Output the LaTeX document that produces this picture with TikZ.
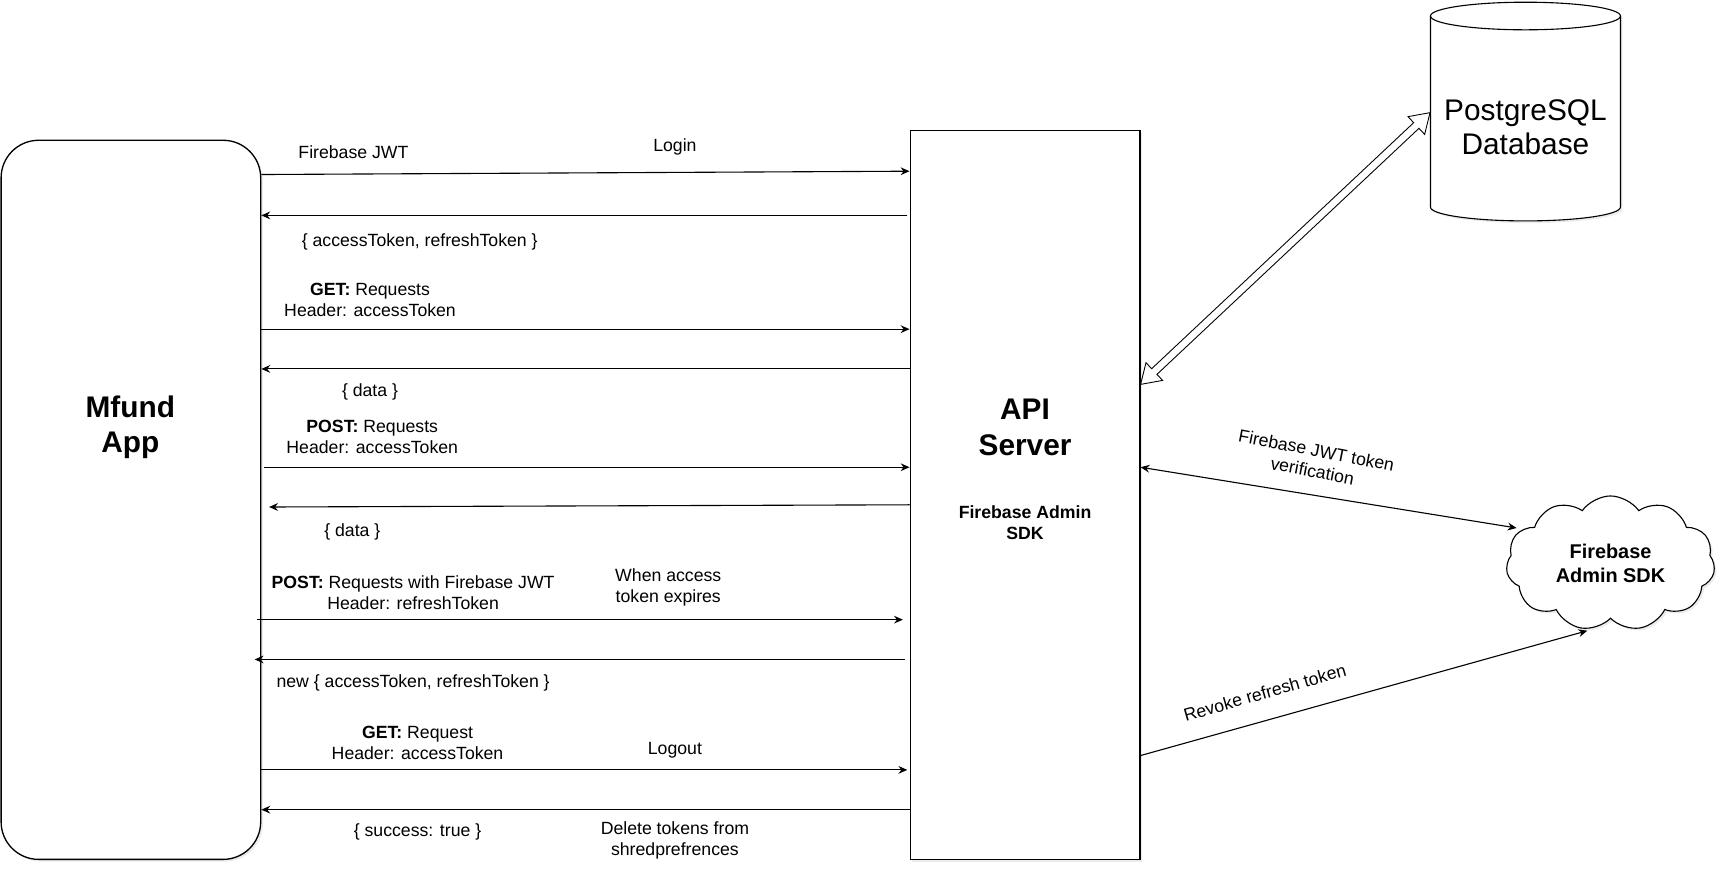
\documentclass[tikz,border=0pt]{standalone}
\usepackage{fontspec}
\setmainfont{Liberation Sans}
\usetikzlibrary{positioning, arrows.meta, calc, shapes.symbols, shadows}

\begin{document}
\begin{tikzpicture}[
          x=0.5pt, y=-0.5pt,
          box/.style={draw, fill=white, line width=0.6pt, drop shadow={opacity=0.15, shadow xshift=1pt, shadow yshift=-1pt}},
          msg/.style={line width=0.5pt, -{Stealth[length=4pt,width=3.5pt]}},
          both/.style={line width=0.5pt, {Stealth[length=4pt,width=3.5pt]}-{Stealth[length=4pt,width=3.5pt]}},
          lbl/.style={font=\fontsize{8}{9.5}\selectfont, align=center, inner sep=0pt, yshift=-1pt},
          big/.style={font=\fontsize{13.5}{16}\selectfont\bfseries, align=center, inner sep=0pt, yshift=-1pt}
        ]
        \useasboundingbox (0,0) rectangle (1568,790);
        % the two actors
        \node[box, rounded corners=17pt, minimum width=117.5pt, minimum height=325.5pt] (app) at (118.5,452.5) {};
        \node[big] (appname) at (118,385) {Mfund\\App};
        \node[box, minimum width=104pt, minimum height=330pt] (api) at (928,448) {};
        \node[big] (apiname) at (928,385) {API\\Server};
        \node[lbl, font=\fontsize{8}{9.5}\selectfont\bfseries] (sdk) at (928,471.5) {Firebase Admin\\SDK};
        % database
        \draw[box, line width=0.5pt] (1295,14.5) -- (1295,187.5)
          arc[start angle=180, end angle=360, x radius=43pt, y radius=6.25pt] -- (1467,14.5)
          arc[start angle=0, end angle=180, x radius=43pt, y radius=6.25pt] -- cycle;
        \draw[line width=0.5pt] (1295,14.5) arc[start angle=180, end angle=360, x radius=43pt, y radius=6.25pt];
        \node[lbl, font=\fontsize{13.5}{15.5}\selectfont, minimum width=86pt] (db) at (1381,113.5) {PostgreSQL\\Database};
        % firebase cloud
        \node[cloud, box, line width=0.5pt, cloud puffs=11, cloud puff arc=110, aspect=1.6, minimum width=94.5pt, minimum height=61pt,
          font=\fontsize{9}{10.5}\selectfont\bfseries, align=center] (fb) at (1458,510) {Firebase\\Admin SDK};
        % requests, app -> api
        \foreach \ya/\yb/\da/\db in {158/155/0/0, 298/298/0/0, 423/423/2/0, 561/561/-4/-6, 697/697/0/-2}
          \draw[msg] ($(app.east |- 0,\ya)+(\da,0)$) -- ($(api.west |- 0,\yb)+(\db,0)$);
        % replies, api -> app
        \foreach \ya/\yb/\da/\db in {195/195/-2/0, 334/334/0/0, 457/459/0/7, 597/597/-4/-6, 733/733/0/0}
          \draw[msg] ($(api.west |- 0,\ya)+(\da,0)$) -- ($(app.east |- 0,\yb)+(\db,0)$);
        % labels of the messages
        \node[lbl] (l1) at (320,136) {Firebase JWT};
        \node[lbl] (l2) at (611,131) {Login};
        \node[lbl] (l3) at (380,217) {\{ accessToken, refreshToken \}};
        \node[lbl] (l4) at (335,269.5) {\textbf{GET:} Requests\\Header: accessToken};
        \node[lbl] (l5) at (335,353) {\{ data \}};
        \node[lbl] (l6) at (337,393.5) {\textbf{POST:} Requests\\Header: accessToken};
        \node[lbl] (l7) at (319,480) {\{ data \}};
        \node[lbl] (l8) at (374,534.5) {\textbf{POST:} Requests with Firebase JWT\\Header: refreshToken};
        \node[lbl] (l9) at (605,529.5) {When access\\token expires};
        \node[lbl] (l10) at (374,616) {new \{ accessToken, refreshToken \}};
        \node[lbl] (l11) at (378,670.5) {\textbf{GET:} Request\\Header: accessToken};
        \node[lbl] (l12) at (611,677) {Logout};
        \node[lbl] (l13) at (378,751) {\{ success: true \}};
        \node[lbl] (l14) at (611,758.5) {Delete tokens from\\shredprefrences};
        % api <-> database
        \coordinate (dbA) at (api.east |- 0,348);
        \coordinate (dbB) at (db.west |- 0,102);
        \draw[fill=white, line width=0.4pt] (dbA)
          -- ($(dbA)!8.5pt!(dbB)!5.5pt!90:(dbB)$)
          -- ($(dbA)!8.5pt!(dbB)!1.75pt!90:(dbB)$)
          -- ($(dbB)!8.5pt!(dbA)!1.75pt!-90:(dbA)$)
          -- ($(dbB)!8.5pt!(dbA)!5.5pt!-90:(dbA)$)
          -- (dbB)
          -- ($(dbB)!8.5pt!(dbA)!5.5pt!90:(dbA)$)
          -- ($(dbB)!8.5pt!(dbA)!1.75pt!90:(dbA)$)
          -- ($(dbA)!8.5pt!(dbB)!1.75pt!-90:(dbB)$)
          -- ($(dbA)!8.5pt!(dbB)!5.5pt!-90:(dbB)$)
          -- cycle;
        % api <-> firebase
        \draw[both] (api.east |- 0,423) -- ($(fb.center)+(-85,-32)$);
        \node[lbl, rotate=-11] (l15) at (1190,415) {Firebase JWT token\\verification};
        \draw[msg] (api.east |- 0,684) -- ($(fb.center)+(-21,61)$);
        \node[lbl, rotate=16] (l16) at (1145,625) {Revoke refresh token};
      \end{tikzpicture}
\end{document}
